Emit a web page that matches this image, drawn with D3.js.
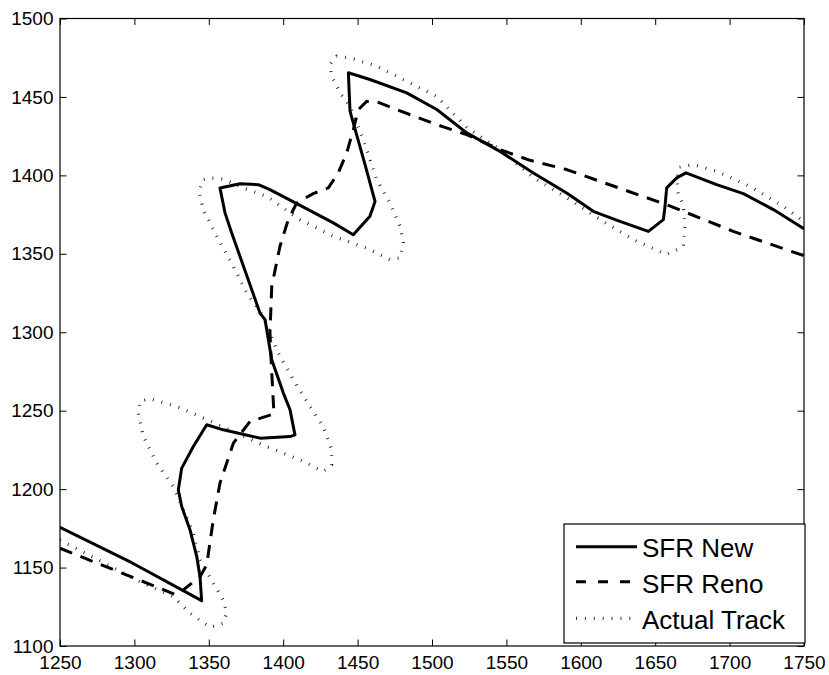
<!DOCTYPE html>
<html>
<head>
<meta charset="utf-8">
<script src="https://cdn.jsdelivr.net/npm/d3@7"></script>
<style>
  html, body { margin: 0; padding: 0; background: #fff; }
  svg { display: block; font-family: "Liberation Sans", Arial, Helvetica, sans-serif; }
</style>
</head>
<body>
<svg id="chart" width="829" height="675"></svg>
<script>
// ---- Data ----
const xTicks = [1250, 1300, 1350, 1400, 1450, 1500, 1550, 1600, 1650, 1700, 1750];
const yTicks = [1100, 1150, 1200, 1250, 1300, 1350, 1400, 1450, 1500];

const seriesNames = ["SFR New", "SFR Reno", "Actual Track"];

// SFR New (solid)
const newX = [1250, 1298.2, 1345.2, 1344.1, 1341.9, 1337.4, 1331.8, 1329.5, 1331.8, 1339.6, 1348.6, 1359.7, 1384.4, 1404.6, 1407.9,
  1404.6, 1400.1, 1392.3, 1387.8, 1384.4, 1365.4, 1360.9, 1357.5, 1371.0, 1383.3, 1391.1, 1409.1, 1433.7, 1447.1, 1458.3, 1461.7,
  1455.0, 1447.1, 1444.9, 1443.8, 1458.3, 1483.0, 1503.2, 1523.3, 1545.7, 1568.1, 1590.5, 1608.4, 1626.3, 1645.4, 1655.5, 1656.6,
  1657.7, 1664.5, 1670.7, 1691.3, 1709.2, 1729.4, 1750];
const newY = [1175.7, 1153.1, 1128.9, 1144.2, 1157.0, 1174.0, 1188.9, 1199.5, 1213.4, 1227.2, 1241.0, 1237.8, 1232.5, 1233.5, 1234.6,
  1250.6, 1261.2, 1282.5, 1308.0, 1312.2, 1363.3, 1376.1, 1392.0, 1394.7, 1394.1, 1390.9, 1382.0, 1369.7, 1362.2, 1373.9, 1383.4,
  1406.9, 1433.5, 1440.9, 1465.4, 1461.1, 1452.6, 1442.0, 1427.1, 1415.3, 1401.5, 1388.8, 1377.1, 1370.7, 1364.3, 1371.8, 1380.3,
  1392.0, 1398.4, 1401.6, 1394.1, 1388.4, 1378.2, 1366.0];

// SFR Reno (dashed)
const renoX = [1250, 1328.4, 1344.1, 1348.6, 1353.0, 1357.5, 1366.5, 1377.7, 1393.8, 1393.1, 1392.1, 1391.1, 1392.3, 1397.8, 1403.4,
  1409.1, 1420.2, 1430.3, 1437.0, 1442.7, 1447.1, 1450.5, 1456.1, 1462.8, 1476.3, 1494.2, 1507.6, 1523.3, 1545.7, 1565.9, 1590.5,
  1612.9, 1657.7, 1702.5, 1750];
const renoY = [1162.3, 1132.5, 1144.2, 1151.7, 1180.4, 1203.8, 1229.3, 1243.1, 1248.0, 1260.1, 1278.0, 1299.7, 1329.2, 1354.7, 1371.8,
  1382.4, 1388.4, 1392.0, 1401.6, 1414.3, 1429.2, 1441.9, 1447.2, 1447.0, 1441.9, 1435.5, 1430.9, 1426.0, 1416.4, 1409.6, 1403.7,
  1396.2, 1381.3, 1364.3, 1348.8];

// Actual Track (dotted)
const trackX = [1250, 1303.8, 1326.1, 1337.4, 1350.8, 1359.7, 1362.0, 1359.7, 1353.0, 1344.1, 1339.6, 1332.9, 1326.1, 1315.0, 1306.0,
  1302.6, 1303.8, 1310.5, 1328.4, 1344.1, 1366.5, 1388.9, 1411.3, 1426.9, 1432.6, 1432.6, 1426.9, 1418.0, 1406.8, 1395.6, 1386.6,
  1375.5, 1366.5, 1355.3, 1346.3, 1343.4, 1346.1, 1350.8, 1359.7, 1373.2, 1388.9, 1411.3, 1433.7, 1456.1, 1471.8, 1478.5, 1480.7,
  1478.5, 1471.8, 1462.8, 1453.8, 1444.9, 1438.2, 1432.6, 1431.5, 1436.0, 1444.9, 1462.8, 1480.7, 1503.2, 1523.3, 1545.7, 1568.1,
  1590.5, 1612.9, 1635.3, 1657.7, 1668.9, 1670.0, 1668.9, 1665.5, 1664.4, 1666.2, 1675.6, 1691.3, 1713.7, 1736.1, 1750];
const trackY = [1167.6, 1141.0, 1131.5, 1120.9, 1111.9, 1114.5, 1120.9, 1129.3, 1140.0, 1154.9, 1171.9, 1186.8, 1201.6, 1216.6, 1233.6,
  1248.5, 1255.9, 1257.6, 1252.7, 1246.3, 1236.7, 1227.1, 1218.7, 1211.2, 1215.5, 1225.0, 1239.9, 1252.7, 1269.7, 1288.8, 1310.1,
  1325.0, 1342.0, 1361.1, 1378.1, 1389.6, 1397.3, 1398.4, 1397.7, 1392.0, 1386.6, 1371.8, 1361.1, 1353.7, 1346.3, 1347.3, 1357.1,
  1367.5, 1382.4, 1397.3, 1422.8, 1444.1, 1452.6, 1463.2, 1470.7, 1476.0, 1474.9, 1469.6, 1461.1, 1450.4, 1430.5, 1416.4, 1398.6,
  1385.8, 1371.8, 1359.1, 1349.5, 1354.7, 1367.5, 1380.3, 1388.8, 1397.3, 1405.2, 1406.9, 1402.6, 1393.0, 1380.3, 1370.5];

// ---- Layout ----
const L = 60, R = 804, T = 18.5, B = 646;
const svg = d3.select("#chart");
const x = d3.scaleLinear().domain([1250, 1750]).range([L, R]);
const y = d3.scaleLinear().domain([1100, 1500]).range([B, T]);

svg.append("defs").append("clipPath").attr("id", "clip")
  .append("rect").attr("x", L).attr("y", T).attr("width", R - L).attr("height", B - T);

const styles = [
  { w: 3, dash: null },
  { w: 3, dash: "13,9" },
  { w: 3.2, dash: "0.9,8" }
];

const line = d3.line().x(d => x(d[0])).y(d => y(d[1]));
const series = [
  d3.zip(newX, newY),
  d3.zip(renoX, renoY),
  d3.zip(trackX, trackY)
];

const gLines = svg.append("g").attr("clip-path", "url(#clip)");
// draw track first (underneath), then reno, then new
[2, 1, 0].forEach(i => {
  gLines.append("path")
    .datum(series[i])
    .attr("d", line)
    .attr("fill", "none")
    .attr("stroke", i === 2 ? "#222" : "#000")
    .attr("stroke-width", styles[i].w)
    .attr("stroke-linejoin", "round")
    .attr("stroke-dasharray", styles[i].dash);
});

// ---- Axes ----
const fontSize = 19;
const axB = svg.append("g").attr("transform", `translate(0,${B})`)
  .call(d3.axisBottom(x).tickValues(xTicks).tickSizeInner(-6.5).tickSizeOuter(0).tickPadding(10).tickFormat(d3.format("d")));
const axL = svg.append("g").attr("transform", `translate(${L},0)`)
  .call(d3.axisLeft(y).tickValues(yTicks).tickSizeInner(-6.5).tickSizeOuter(0).tickPadding(6.5).tickFormat(d3.format("d")));
const axT = svg.append("g").attr("transform", `translate(0,${T})`)
  .call(d3.axisTop(x).tickValues(xTicks).tickSizeInner(-6.5).tickSizeOuter(0).tickFormat(""));
const axR = svg.append("g").attr("transform", `translate(${R},0)`)
  .call(d3.axisRight(y).tickValues(yTicks).tickSizeInner(-6.5).tickSizeOuter(0).tickFormat(""));
[axB, axL, axT, axR].forEach(a => {
  a.select(".domain").remove();
  a.selectAll("line").attr("stroke", "#000").attr("stroke-width", 1);
  a.selectAll("text").attr("font-size", fontSize).attr("fill", "#000")
    .attr("font-family", "'Liberation Sans', Arial, Helvetica, sans-serif");
});

svg.append("rect").attr("x", L).attr("y", T).attr("width", R - L).attr("height", B - T)
  .attr("fill", "none").attr("stroke", "#000").attr("stroke-width", 1.2);

// ---- Legend ----
const lg = svg.append("g");
lg.append("rect").attr("x", 564).attr("y", 524).attr("width", 241).attr("height", 119)
  .attr("fill", "#fff").attr("stroke", "#000").attr("stroke-width", 1.2);
const rowY = [546.7, 581.7, 618.3];
const textBase = [556.7, 592.8, 628.5];
seriesNames.forEach((name, i) => {
  lg.append("line").attr("x1", 576).attr("x2", 637).attr("y1", rowY[i]).attr("y2", rowY[i])
    .attr("stroke", i === 2 ? "#222" : "#000")
    .attr("stroke-width", styles[i].w)
    .attr("stroke-dasharray", i === 1 ? "10,12" : styles[i].dash);
  lg.append("text").attr("x", 642).attr("y", textBase[i]).text(name)
    .attr("font-size", 26).attr("fill", "#000");
});
</script>
</body>
</html>
